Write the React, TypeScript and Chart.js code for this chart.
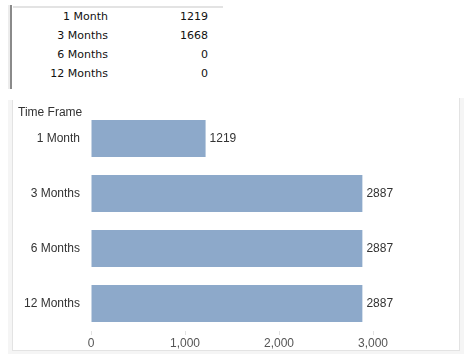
import React, { useEffect, useRef } from "react";
import { Chart, registerables } from "chart.js";

Chart.register(...registerables);

const tableCategories = ["1 Month", "3 Months", "6 Months", "12 Months"];
const tableValues = [1219, 1668, 0, 0];

const chartCategories = ["1 Month", "3 Months", "6 Months", "12 Months"];
const chartValues = [1219, 2887, 2887, 2887];
const xTickValues = [0, 1000, 2000, 3000];
const axisTitle = "Time Frame";

const BAR_COLOR = "#8DA9CA";
const FONT = "'Liberation Sans', Arial, sans-serif";

export default function App() {
  const canvasRef = useRef<HTMLCanvasElement | null>(null);

  useEffect(() => {
    const canvas = canvasRef.current;
    if (!canvas) return;

    const extras = {
      id: "extras",
      afterDatasetsDraw(chart: any) {
        const ctx = chart.ctx;
        const meta = chart.getDatasetMeta(0);
        ctx.save();
        ctx.font = `12px ${FONT}`;
        ctx.fillStyle = "#333333";
        ctx.textAlign = "left";
        ctx.textBaseline = "middle";
        meta.data.forEach((bar: any, i: number) => {
          ctx.fillText(String(chartValues[i]), bar.x + 4, bar.y);
        });
        ctx.fillText(axisTitle, 18, 113);
        ctx.restore();
      },
    };

    const chart = new Chart(canvas, {
      type: "bar",
      data: {
        labels: chartCategories,
        datasets: [
          {
            data: chartValues,
            backgroundColor: BAR_COLOR,
            borderWidth: 0,
            categoryPercentage: 1,
            barPercentage: 0.673,
          },
        ],
      },
      options: {
        indexAxis: "y",
        responsive: false,
        animation: false,
        events: [],
        layout: { padding: { left: 0, top: 111, right: 102, bottom: 8 } },
        plugins: {
          legend: { display: false },
          tooltip: { enabled: false },
          title: { display: false },
        },
        scales: {
          x: {
            min: 0,
            max: 3000,
            afterBuildTicks: (scale: any) => {
              scale.ticks = xTickValues.map((v) => ({ value: v }));
            },
            afterFit: (scale: any) => {
              scale.height = 20;
            },
            border: { display: false },
            grid: {
              drawOnChartArea: false,
              drawTicks: true,
              tickLength: 4,
              color: "#e2e2e2",
            },
            ticks: {
              padding: 1,
              maxRotation: 0,
              color: "#555555",
              font: { family: FONT, size: 12 },
              callback: (v: any) => Number(v).toLocaleString("en-US"),
            },
          },
          y: {
            afterFit: (scale: any) => {
              scale.width = 91;
            },
            border: { display: false },
            grid: { display: false, drawTicks: false },
            ticks: {
              padding: 11,
              color: "#333333",
              font: { family: FONT, size: 12 },
            },
          },
        },
      },
      plugins: [extras],
    });

    return () => chart.destroy();
  }, []);

  const rowTop = [10, 29, 48, 67];

  return (
    <div>
      <div
        style={{
          position: "fixed",
          left: 0,
          top: 0,
          width: 475,
          height: 359,
          background: "#ffffff",
          overflow: "hidden",
        }}
      >
        {/* table */}
        <div style={{ position: "absolute", left: 8, top: 5, width: 2, height: 84, background: "#ececec" }} />
        <div style={{ position: "absolute", left: 10, top: 5, width: 2, height: 84, background: "#8a8a8a" }} />
        <div style={{ position: "absolute", left: 13, top: 6, width: 210, height: 2, background: "#e3e3e3" }} />
        {tableCategories.map((c, i) => (
          <React.Fragment key={c}>
            <div
              style={{
                position: "absolute",
                left: 20,
                width: 88,
                top: rowTop[i],
                textAlign: "right",
                font: "11px 'DejaVu Sans', sans-serif",
                color: "#111",
                lineHeight: "14px",
              }}
            >
              {c}
            </div>
            <div
              style={{
                position: "absolute",
                left: 120,
                width: 88,
                top: rowTop[i],
                textAlign: "right",
                font: "11px 'DejaVu Sans', sans-serif",
                color: "#111",
                lineHeight: "14px",
              }}
            >
              {tableValues[i]}
            </div>
          </React.Fragment>
        ))}
        {/* chart panel borders */}
        <div style={{ position: "absolute", left: 8, top: 100, width: 4, height: 254, background: "#f5f5f5" }} />
        <div style={{ position: "absolute", left: 12, top: 100, width: 1, height: 251, background: "#e3e3e3" }} />
        <div style={{ position: "absolute", left: 8, top: 351, width: 456, height: 3, background: "#f5f5f5" }} />
        <div style={{ position: "absolute", left: 12, top: 350, width: 448, height: 1, background: "#e3e3e3" }} />
        <div style={{ position: "absolute", left: 460, top: 98, width: 4, height: 256, background: "#f5f5f5" }} />
        <div style={{ position: "absolute", left: 459, top: 98, width: 1, height: 253, background: "#e3e3e3" }} />
        <canvas
          ref={canvasRef}
          width={475}
          height={359}
          style={{ position: "absolute", left: 0, top: 0, width: 475, height: 359 }}
        />
      </div>
    </div>
  );
}
